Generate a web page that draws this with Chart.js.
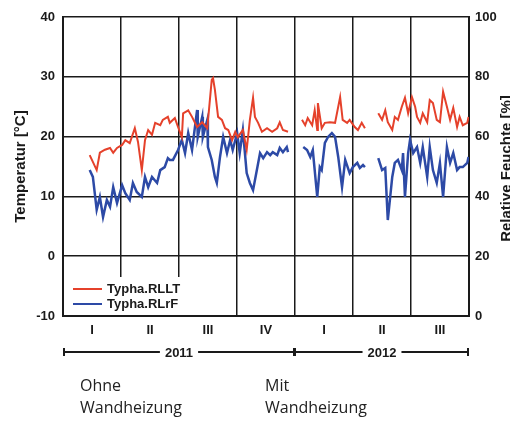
<!DOCTYPE html>
<html lang="de">
<head>
<meta charset="UTF-8" />
<title>Typha Temperatur / Feuchte</title>
<script src="https://cdn.jsdelivr.net/npm/chart.js"></script>
<style>
  body { margin: 0; background: #fff; }
  #wrap { position: relative; width: 510px; height: 421px; }
  .note { position: absolute; font-family: "Open Sans", sans-serif; font-size: 16px; line-height: 22px; color: #222; }
</style>
</head>
<body>
<div id="wrap">
  <canvas id="chart" width="510" height="421"></canvas>
  <div class="note" style="left:80px; top:374px;">Ohne<br>Wandheizung</div>
  <div class="note" style="left:265px; top:374px;">Mit<br>Wandheizung</div>
</div>

<script>
// day index counted from 1 Jan 2011, one quarter = 91.25 days
const quarterLen = 91.25;
const quarterLabels = ['I', 'II', 'III', 'IV', 'I', 'II', 'III'];
const yearLabels = ['2011', '2012'];
const yearFromQuarter = [0, 4];
const yearToQuarter = [4, 7];

// Typha.RLLT, temperature in °C (null = no data)
const tempDays = [42,53,58,66,74,79,85,93,98,105,113,118,124,129,134,140,145,153,157,165,
  168,176,181,187,189,197,203,211,219,227,234,236,239,244,250,255,260,266,271,275,
  283,289,294,299,302,307,313,321,329,337,341,346,354,
  365,
  376,381,385,392,396,400,401,407,412,420,428,436,440,447,451,459,464,470,475,
  485,
  496,502,507,511,518,522,527,533,538,543,549,554,557,562,566,573,577,582,588,593,
  598,604,609,614,620,624,629,636,638];
const tempValues = [16.9,14.4,17.3,17.8,18.1,17.3,18.1,18.6,19.4,18.9,21.4,19.1,14.4,19.4,21.1,20.3,22.3,21.9,22.8,23.3,
  22.3,23.1,21.6,19.9,23.9,24.4,23.3,21.6,22.4,21.4,29.5,29.8,27.8,23.3,22.8,21.4,21.1,19.4,20.8,19.9,
  21.1,17.8,22.8,26.5,23.3,22.3,20.8,21.4,20.8,21.4,22.4,21.1,20.8,
  null,
  22.8,21.9,23.1,21.9,24.4,21.1,25.6,21.4,22.3,22.4,22.3,26.6,22.8,22.3,22.8,21.6,21.1,22.3,21.4,
  null,
  23.9,22.8,24.4,22.4,21.1,23.3,22.8,25.0,26.5,23.9,26.6,25.0,23.3,22.3,23.9,22.4,26.1,25.6,22.8,22.4,
  27.5,25.0,22.8,24.8,21.6,23.3,21.9,22.3,23.3];

// Typha.RLrF, relative humidity in %
const humDays = [42,47,53,58,63,69,74,79,85,93,98,105,110,116,124,129,134,140,148,153,
  160,165,168,173,181,187,192,197,203,211,212,219,220,227,228,234,239,242,247,252,
  258,263,267,274,278,283,289,294,299,305,310,315,321,326,330,337,341,346,352,354,
  365,
  378,384,389,393,400,404,407,412,417,423,428,433,439,444,451,456,463,467,472,475,
  485,
  496,502,507,511,518,522,527,533,535,538,543,546,551,557,562,566,573,577,582,588,
  593,598,604,609,614,620,624,629,636,638];
const humValues = [48.8,46.5,35.5,39.8,33.1,38.8,36.5,43.1,37.8,43.8,41.1,38.8,44.5,41.5,39.8,46.5,43.1,46.5,44.5,48.8,
  49.8,52.8,52.2,52.2,55.5,58.9,54.5,61.2,55.5,68.9,59.9,66.6,59.9,65.6,56.5,52.2,46.5,44.5,53.2,59.9,
  54.5,58.9,55.5,61.2,54.5,62.2,47.8,44.5,42.1,48.8,54.5,52.8,54.8,53.8,54.8,53.8,56.2,54.8,56.5,54.8,
  null,
  56.5,55.5,53.2,55.5,39.8,49.8,48.8,57.9,59.9,61.2,59.9,53.2,43.1,52.2,47.8,49.8,51.2,49.5,50.5,49.8,
  null,
  52.8,48.8,49.5,32.1,46.5,51.2,52.2,48.8,54.5,39.8,54.5,58.9,54.5,56.5,51.2,56.5,46.5,56.5,48.8,44.5,
  51.2,39.8,56.5,51.2,54.5,48.8,49.8,49.8,51.2,53.2];

const red = '#e5412b';
const blue = '#2d4aa6';
const ink = '#1a1a1a';
const boldFont = 'bold 13px "Liberation Sans", Arial, sans-serif';

const toPoints = (days, vals) => days.map((d, i) => ({ x: d, y: vals[i] }));

const extras = {
  id: 'extras',
  afterDraw(chart) {
    const { ctx, chartArea: a, scales } = chart;
    const x = scales.x;
    ctx.save();

    // legend box in the lower left corner of the plot
    ctx.fillStyle = '#fff';
    ctx.fillRect(a.left + 2, a.bottom - 39, 128, 38);
    const items = [['Typha.RLLT', red], ['Typha.RLrF', blue]];
    ctx.font = boldFont;
    ctx.textBaseline = 'middle';
    items.forEach(([name, col], i) => {
      const yy = a.bottom - 27 + i * 15;
      ctx.strokeStyle = col;
      ctx.lineWidth = 2;
      ctx.beginPath();
      ctx.moveTo(a.left + 10, yy);
      ctx.lineTo(a.left + 39, yy);
      ctx.stroke();
      ctx.fillStyle = ink;
      ctx.textAlign = 'left';
      ctx.fillText(name, a.left + 44, yy);
    });

    // quarter labels
    ctx.fillStyle = ink;
    ctx.textAlign = 'center';
    quarterLabels.forEach((q, i) => {
      ctx.fillText(q, x.getPixelForValue((i + 0.5) * quarterLen), a.bottom + 14);
    });

    // year brackets
    const by = a.bottom + 36;
    ctx.strokeStyle = ink;
    ctx.lineWidth = 2;
    yearLabels.forEach((yr, i) => {
      const x0 = x.getPixelForValue(yearFromQuarter[i] * quarterLen);
      const x1 = x.getPixelForValue(yearToQuarter[i] * quarterLen);
      ctx.beginPath();
      ctx.moveTo(x0, by); ctx.lineTo(x1, by);
      ctx.moveTo(x0 + (i ? 0 : 1), by - 4); ctx.lineTo(x0 + (i ? 0 : 1), by + 4);
      ctx.moveTo(x1 - 1, by - 4); ctx.lineTo(x1 - 1, by + 4);
      ctx.stroke();
      const cx = (x0 + x1) / 2;
      const w = ctx.measureText(yr).width + 10;
      ctx.fillStyle = '#fff';
      ctx.fillRect(cx - w / 2, by - 7, w, 14);
      ctx.fillStyle = ink;
      ctx.fillText(yr, cx, by + 1);
    });

    // axis titles
    const cy = (a.top + a.bottom) / 2;
    ctx.font = 'bold 15px "Liberation Sans", Arial, sans-serif';
    ctx.translate(21, cy);
    ctx.rotate(-Math.PI / 2);
    ctx.fillText('Temperatur [°C]', 0, 0);
    ctx.setTransform(1, 0, 0, 1, 0, 0);
    ctx.translate(507, cy + 2);
    ctx.rotate(-Math.PI / 2);
    ctx.fillText('Relative Feuchte [%]', 0, 0);
    ctx.restore();
  }
};

const tickFont = { family: '"Liberation Sans", Arial', size: 13, weight: 'bold' };

new Chart(document.getElementById('chart'), {
  type: 'line',
  data: {
    datasets: [
      { label: 'Typha.RLLT', data: toPoints(tempDays, tempValues), yAxisID: 'y',
        borderColor: red, borderWidth: 2, pointRadius: 0, tension: 0 },
      { label: 'Typha.RLrF', data: toPoints(humDays, humValues), yAxisID: 'y1',
        borderColor: blue, borderWidth: 2.5, pointRadius: 0, tension: 0 }
    ]
  },
  options: {
    responsive: false,
    animation: false,
    layout: { padding: { top: 17, left: 0, right: 0, bottom: 0 } },
    plugins: { legend: { display: false }, tooltip: { enabled: false } },
    scales: {
      x: {
        type: 'linear', min: 0, max: 7 * quarterLen,
        afterBuildTicks: s => { s.ticks = quarterLabels.concat('').map((_, i) => ({ value: i * quarterLen })); },
        afterFit: s => { s.height = 105; },
        ticks: { display: false },
        grid: { color: ink, lineWidth: 1.5, drawTicks: false },
        border: { color: ink, width: 2 }
      },
      y: {
        position: 'left', min: -10, max: 40,
        afterFit: s => { s.width = 63; },
        ticks: { stepSize: 10, color: ink, font: tickFont, padding: 8 },
        grid: { color: ink, lineWidth: 1.5, drawTicks: false },
        border: { color: ink, width: 2 }
      },
      y1: {
        position: 'right', min: 0, max: 100,
        afterFit: s => { s.width = 41; },
        ticks: { stepSize: 20, color: ink, font: tickFont, padding: 6 },
        grid: { display: false, drawTicks: false },
        border: { color: ink, width: 2 }
      }
    }
  },
  plugins: [extras]
});
</script>
</body>
</html>
